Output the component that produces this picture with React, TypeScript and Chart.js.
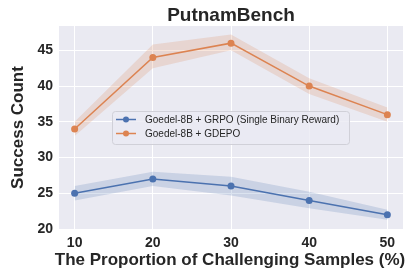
import React, { useEffect, useRef } from "react";
import { Chart, registerables } from "chart.js";

Chart.register(...registerables);

const xValues = [10, 20, 30, 40, 50];
const grpo = [25, 27, 26, 24, 22];
const grpoUpper = [26, 28, 27.3, 25.2, 22.7];
const grpoLower = [24, 26, 24.7, 22.9, 21.3];
const gdepo = [34, 44, 46, 40, 36];
const gdepoUpper = [35, 45.8, 47.2, 41.1, 37];
const gdepoLower = [33, 42.5, 45, 38.9, 35];
const xTicks = [10, 20, 30, 40, 50];
const yTicks = [20, 25, 30, 35, 40, 45];

const titleText = "PutnamBench";
const xTitle = "The Proportion of Challenging Samples (%)";
const yTitle = "Success Count";
const grpoLabel = "Goedel-8B + GRPO (Single Binary Reward)";
const gdepoLabel = "Goedel-8B + GDEPO";

const BLUE = "#4c72b0";
const ORANGE = "#dd8452";
const FONT = "'Liberation Sans', Arial, sans-serif";

const pts = (ys: number[]) => xValues.map((x, i) => ({ x, y: ys[i] }));

export default function App() {
  const ref = useRef<HTMLCanvasElement | null>(null);
  useEffect(() => {
    document.body.style.margin = "0";
    const canvas = ref.current!;
    const decor = {
      id: "decor",
      beforeDraw(chart: any) {
        const { ctx, chartArea: a } = chart;
        ctx.save();
        ctx.fillStyle = "#ffffff";
        ctx.fillRect(0, 0, chart.width, chart.height);
        ctx.fillStyle = "#eaeaf2";
        ctx.fillRect(a.left, a.top, a.right - a.left, a.bottom - a.top);
        ctx.restore();
      },
      afterDraw(chart: any) {
        const { ctx, chartArea: a } = chart;
        ctx.save();
        ctx.fillStyle = "#262626";
        ctx.textAlign = "center";
        ctx.textBaseline = "alphabetic";
        ctx.font = `bold 19px ${FONT}`;
        ctx.fillText(titleText, (a.left + a.right) / 2, 21);
        ctx.font = `bold 17px ${FONT}`;
        ctx.fillText(xTitle, (a.left + a.right) / 2 - 1, 265);
        ctx.save();
        ctx.translate(23, (a.top + a.bottom) / 2);
        ctx.rotate(-Math.PI / 2);
        ctx.fillText(yTitle, 0, 0);
        ctx.restore();

        // legend in the centre
        const items = chart.data.datasets.filter((d: any) => d.showInLegend);
        const bx = 112, by = 111, bw = 237, bh = 33;
        ctx.fillStyle = "rgba(234,234,242,0.8)";
        ctx.strokeStyle = "#d0d0d8";
        ctx.lineWidth = 1;
        ctx.beginPath();
        (ctx as any).roundRect(bx + 0.5, by + 0.5, bw, bh, 3);
        ctx.fill();
        ctx.stroke();
        ctx.textAlign = "left";
        ctx.textBaseline = "middle";
        ctx.font = `10px ${FONT}`;
        items.forEach((d: any, i: number) => {
          const y = 119.5 + i * 14;
          ctx.strokeStyle = d.borderColor;
          ctx.lineWidth = 1.5;
          ctx.beginPath();
          ctx.moveTo(116, y);
          ctx.lineTo(136, y);
          ctx.stroke();
          ctx.fillStyle = d.borderColor;
          ctx.beginPath();
          ctx.arc(126, y, 3, 0, Math.PI * 2);
          ctx.fill();
          ctx.fillStyle = "#262626";
          ctx.fillText(d.label, 145, y + 0.5);
        });
        ctx.restore();
      },
    };

    const band = (data: number[], color: string, fill: any) => ({
      data: pts(data),
      borderWidth: 0,
      pointRadius: 0,
      backgroundColor: color,
      borderColor: "transparent",
      fill,
      showInLegend: false,
    });

    const chart = new Chart(canvas, {
      type: "line",
      data: {
        datasets: [
          band(grpoUpper, "rgba(76,114,176,0.2)", false),
          band(grpoLower, "rgba(76,114,176,0.2)", "-1"),
          band(gdepoUpper, "rgba(221,132,82,0.2)", false),
          band(gdepoLower, "rgba(221,132,82,0.2)", "-1"),
          {
            label: grpoLabel,
            data: pts(grpo),
            borderColor: BLUE,
            backgroundColor: BLUE,
            borderWidth: 1.5,
            pointRadius: 3.5,
            pointBorderWidth: 0,
            fill: false,
            showInLegend: true,
          } as any,
          {
            label: gdepoLabel,
            data: pts(gdepo),
            borderColor: ORANGE,
            backgroundColor: ORANGE,
            borderWidth: 1.5,
            pointRadius: 3.5,
            pointBorderWidth: 0,
            fill: false,
            showInLegend: true,
          } as any,
        ],
      },
      options: {
        responsive: false,
        animation: false,
        layout: { padding: { top: 26, right: 13, left: 0, bottom: 0 } },
        plugins: {
          legend: { display: false },
          title: { display: false },
          tooltip: { enabled: false },
        },
        scales: {
          x: {
            type: "linear",
            min: 8,
            max: 52,
            afterBuildTicks: (axis: any) => {
              axis.ticks = xTicks.map((v) => ({ value: v }));
            },
            afterFit: (axis: any) => {
              axis.height = 51;
            },
            grid: { color: "#ffffff", lineWidth: 1, drawTicks: false },
            border: { display: false },
            ticks: {
              padding: 6,
              color: "#262626",
              font: { family: FONT, size: 14, weight: "bold" },
              maxRotation: 0,
            },
          },
          y: {
            min: 20,
            max: 48.4,
            afterBuildTicks: (axis: any) => {
              axis.ticks = yTicks.map((v) => ({ value: v }));
            },
            afterFit: (axis: any) => {
              axis.width = 59;
            },
            grid: { color: "#ffffff", lineWidth: 1, drawTicks: false },
            border: { display: false },
            ticks: {
              padding: 6,
              color: "#262626",
              font: { family: FONT, size: 14, weight: "bold" },
            },
          },
        },
      } as any,
      plugins: [decor],
    });
    return () => chart.destroy();
  }, []);
  return <canvas ref={ref} width={416} height={280} style={{ display: "block" }} />;
}
